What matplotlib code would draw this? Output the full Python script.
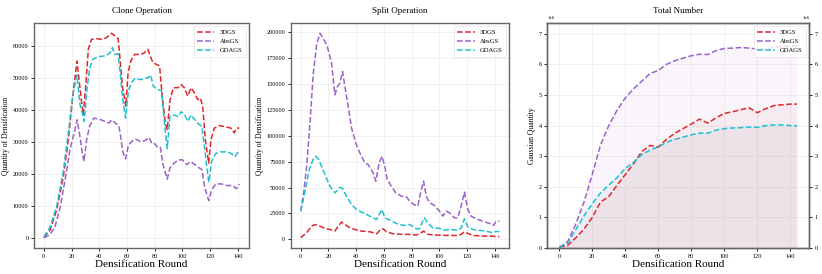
import matplotlib
matplotlib.use('Agg')
import matplotlib.pyplot as plt

plt.rcParams['font.family'] = 'serif'
plt.rcParams['font.serif'] = ['Liberation Serif', 'DejaVu Serif']

methods = ['3DGS', 'AbsGS', 'GDAGS']
colors = ['#e0262b', '#9b62c9', '#1fc0d0']

# ---- Clone Operation ----
clone_x_3dgs = [0, 4.5, 9.3, 14.1, 17.7, 18.9, 21.5, 23.9, 25.4, 27.3, 28.5, 30.4, 32.1, 34.4, 38, 41.6, 45.2,
                48.8, 51.2, 53.6, 54.8, 56.7, 59.1, 60.8, 62.7, 65.6, 69.1, 72, 75.1, 76.8, 78.7, 81.1, 83.5,
                85.4, 87.6, 89, 91.1, 93.5, 96.7, 99, 101.4, 103.8, 106.2, 108.6, 111, 112.9, 114.6, 116.5,
                118.9, 120.6, 123, 126.6, 131.3, 134.9, 137.3, 139, 141]
clone_y_3dgs = [300, 2600, 8900, 19300, 30800, 36000, 46500, 55300, 49600, 42300, 38600, 48500, 59000, 62100,
                62300, 62100, 62600, 64000, 63200, 62300, 56900, 47500, 41200, 51700, 55300, 57400, 57400,
                57700, 59000, 56900, 54800, 54300, 53800, 44400, 36000, 33900, 43300, 47000, 47000, 48000,
                47000, 44400, 47000, 45400, 43300, 43800, 41200, 30800, 23500, 30800, 34400, 35200, 34800,
                34400, 32900, 34400, 34400]
clone_x_abs = [0, 4, 8, 12, 16, 19, 22, 24, 26, 28, 29, 31, 33, 36, 40, 44, 47, 49, 52, 54, 55, 57, 59, 61,
               64, 66, 70, 73, 76, 78, 80, 82, 84, 86, 89, 91, 94, 97, 100, 103, 106, 109, 112, 114, 116, 119,
               121, 124, 128, 132, 136, 139, 141]
clone_y_abs = [200, 1000, 3500, 10000, 20000, 28000, 33000, 37000, 32000, 26000, 24000, 31000, 35000, 37500,
               37200, 36500, 36000, 37000, 35800, 35300, 33000, 27000, 24800, 29000, 30500, 31000, 30200,
               30500, 31500, 29500, 29500, 28500, 28500, 23000, 18500, 22000, 23500, 24500, 24500, 23000,
               24000, 23000, 22000, 21500, 16000, 11800, 15000, 17000, 17000, 16500, 16500, 15500, 17000]
clone_x_gda = [0, 4.5, 9.3, 14.1, 18, 21, 24, 26, 29.2, 31, 33, 35.5, 40, 45, 48, 49.5, 51, 53.5, 55, 57, 59,
               61, 63, 66, 70, 73, 75, 77, 79, 82, 85, 87, 89, 91, 94, 97, 99, 101, 104, 106, 109, 112, 114,
               116, 119, 121, 124, 128, 132, 135, 138, 140, 141]
clone_y_gda = [500, 3500, 10000, 21000, 34000, 45000, 51000, 42000, 36500, 46000, 53000, 56000, 56700, 57000,
               58000, 59500, 57400, 57600, 52000, 43000, 37500, 46000, 48500, 50000, 49500, 50000, 50000,
               51000, 47500, 46500, 46000, 36000, 28000, 38000, 38500, 38000, 39500, 39000, 36500, 38500,
               37000, 35500, 35000, 28000, 17500, 24000, 26500, 27000, 27000, 26500, 25500, 27000, 27000]

# ---- Split Operation ----
split_x_3dgs = [0, 4.3, 7.9, 10.3, 13.9, 17.5, 21, 24.7, 27.1, 29.5, 31.9, 35.5, 39, 43.9, 49.9, 54.7, 57.8,
                59.5, 61.9, 66.7, 73.8, 78.6, 83.4, 87, 88.7, 91.8, 97.8, 105, 112.2, 115.8, 118.2, 120.6,
                124.2, 131.4, 136.2, 143.4]
split_y_3dgs = [1600, 6400, 12800, 14400, 12800, 10600, 9600, 8000, 12800, 16700, 14400, 11200, 9600, 8000,
                7400, 5400, 9600, 10300, 7400, 5400, 4800, 4800, 4200, 6400, 8000, 4800, 4200, 3800, 3800,
                4800, 7400, 5800, 3800, 3200, 3200, 2600]
split_x_abs = [0, 1.9, 4.3, 6.7, 9.1, 11.5, 13.9, 16.3, 19.2, 22.3, 24.7, 26.6, 28.3, 30.2, 31.9, 34.3, 36.7,
               39.8, 42.7, 46.3, 48.7, 52.3, 54.2, 56.6, 58.7, 60.7, 62.4, 64.7, 68.6, 72.6, 76.3, 78.6, 81.5,
               84.6, 86.5, 88.7, 90.6, 93, 96.6, 100.2, 102.6, 105, 107.4, 111, 113.4, 115.8, 118.2, 120.6,
               123, 126.6, 131.4, 136.2, 139.3, 141, 143.4]
split_y_abs = [27200, 41700, 70500, 112000, 160000, 187500, 198700, 193900, 185900, 169900, 139400, 147400,
               150600, 161900, 147400, 128200, 107400, 92900, 83300, 73700, 72100, 64100, 56100, 73700,
               80100, 70500, 57700, 52900, 44900, 41700, 41000, 36900, 33700, 32100, 44900, 56100, 41700,
               35300, 32700, 27200, 22400, 27200, 25600, 20800, 20800, 32100, 45500, 28800, 22400, 19900,
               17600, 15400, 13500, 17600, 17600]
split_x_gda = [0, 1.9, 3.8, 6.2, 9.1, 11, 12.7, 15.1, 17.5, 21.1, 24.7, 27.1, 28.3, 30.2, 33.1, 36.7, 40.3,
               45.1, 49.9, 54.7, 57.1, 58.7, 60.7, 64.3, 69, 73.8, 78.6, 83.4, 85.8, 87.5, 89.4, 91.8, 95.4,
               100.2, 103.8, 108.6, 113.4, 115.8, 118.2, 120.6, 124.2, 129, 133.8, 138.6, 141, 143.4]
split_y_gda = [27200, 38500, 51300, 67300, 77600, 80100, 77600, 70500, 62500, 51300, 44900, 48100, 50300,
               49000, 41700, 33700, 28800, 25600, 22400, 19200, 25000, 28800, 20800, 18600, 15400, 13500,
               14400, 10300, 10300, 16000, 20800, 15400, 11200, 10600, 9000, 9600, 8700, 11200, 19900, 12200,
               9600, 8700, 8000, 6400, 7700, 7400]

# ---- Total Number (x1e6) ----
total_x = [0, 5, 10, 15, 20, 25, 30, 35, 40, 45, 50, 55, 60, 65, 70, 75, 80, 85, 90, 95, 100, 105, 110, 115,
           120, 125, 130, 135, 140, 144]
total_3dgs = [0.03, 0.08, 0.33, 0.62, 1.0, 1.5, 1.68, 2.05, 2.4, 2.75, 3.15, 3.35, 3.3, 3.55, 3.75, 3.9, 4.05,
              4.21, 4.08, 4.25, 4.4, 4.45, 4.52, 4.58, 4.42, 4.55, 4.65, 4.68, 4.7, 4.7]
total_abs = [0.02, 0.2, 0.78, 1.5, 2.4, 3.37, 4.0, 4.5, 4.9, 5.2, 5.45, 5.7, 5.8, 6.0, 6.12, 6.2, 6.28, 6.33,
             6.32, 6.45, 6.52, 6.53, 6.55, 6.53, 6.5, 6.5, 6.55, 6.6, 6.6, 6.6]
total_gda = [0.03, 0.15, 0.6, 1.05, 1.45, 1.8, 2.05, 2.3, 2.6, 2.8, 3.05, 3.2, 3.3, 3.45, 3.55, 3.62, 3.7,
             3.75, 3.75, 3.85, 3.9, 3.92, 3.93, 3.95, 3.94, 4.0, 4.02, 4.02, 4.0, 3.99]


def style_axes(ax):
    ax.grid(True, color='#efefef', linewidth=0.6)
    ax.set_axisbelow(True)
    for s in ax.spines.values():
        s.set_color('#666666')
        s.set_linewidth(1.0)
    ax.tick_params(labelsize=4.5, length=2, width=0.6, pad=2)
    ax.set_xticks([0, 20, 40, 60, 80, 100, 120, 140])


fig = plt.figure(figsize=(8.22, 2.74), dpi=100)
ax1 = fig.add_axes([0.0414, 0.095, 0.2616, 0.821])
ax2 = fig.add_axes([0.3537, 0.095, 0.2659, 0.821])
ax3 = fig.add_axes([0.6659, 0.095, 0.3187, 0.821])

# clone
ax1.plot(clone_x_3dgs, clone_y_3dgs, '--', color=colors[0], lw=1.1, label=methods[0])
ax1.plot(clone_x_abs, clone_y_abs, '--', color=colors[1], lw=1.1, label=methods[1])
ax1.plot(clone_x_gda, clone_y_gda, '--', color=colors[2], lw=1.1, label=methods[2])
ax1.set_title('Clone Operation', fontsize=6.5, pad=7)
ax1.set_ylabel('Quantity of Densification', fontsize=5.5, labelpad=2)

# split
ax2.plot(split_x_3dgs, split_y_3dgs, '--', color=colors[0], lw=1.1, label=methods[0])
ax2.plot(split_x_abs, split_y_abs, '--', color=colors[1], lw=1.1, label=methods[1])
ax2.plot(split_x_gda, split_y_gda, '--', color=colors[2], lw=1.1, label=methods[2])
ax2.set_title('Split Operation', fontsize=6.5, pad=7)
ax2.set_ylabel('Quantity of Densification', fontsize=5.5, labelpad=2)

# total
tot_abs = [v * 1e6 for v in total_abs]
tot_3dgs = [v * 1e6 for v in total_3dgs]
tot_gda = [v * 1e6 for v in total_gda]
ax3.plot(total_x, tot_3dgs, '--', color=colors[0], lw=1.1, label=methods[0])
ax3.plot(total_x, tot_abs, '--', color=colors[1], lw=1.1, label=methods[1])
ax3.plot(total_x, tot_gda, '--', color=colors[2], lw=1.1, label=methods[2])
ax3.fill_between(total_x, tot_abs, color=colors[1], alpha=0.06, lw=0)
ax3.fill_between(total_x, tot_3dgs, color=colors[0], alpha=0.05, lw=0)
ax3.fill_between(total_x, tot_gda, color='#8a8a9a', alpha=0.08, lw=0)
ax3.set_title('Total Number', fontsize=6.5, pad=7)
ax3.set_ylabel('Gaussian Quantity', fontsize=5.5, labelpad=2)
ax3.set_xlim(-7.2, 151.5)
ax3.set_ylim(0, 7.35e6)

for ax in (ax1, ax2, ax3):
    style_axes(ax)
    ax.set_xlabel('Densification Round', fontsize=8, labelpad=1)
    leg = ax.legend(loc='upper right', fontsize=4.8, frameon=True, fancybox=False,
                    handlelength=2.6, borderpad=0.5, labelspacing=0.5)
    leg.get_frame().set_edgecolor('#dddddd')
    leg.get_frame().set_linewidth(0.5)

ax3.yaxis.get_offset_text().set_fontsize(3.5)
ax3b = ax3.twinx()
ax3b.set_ylim(ax3.get_ylim())
ax3b.tick_params(labelsize=4.5, length=2, width=0.6, pad=2)
ax3b.yaxis.get_offset_text().set_fontsize(3.5)
for s in ax3b.spines.values():
    s.set_color('#666666')
    s.set_linewidth(1.0)

fig.savefig('out.png', dpi=100)
